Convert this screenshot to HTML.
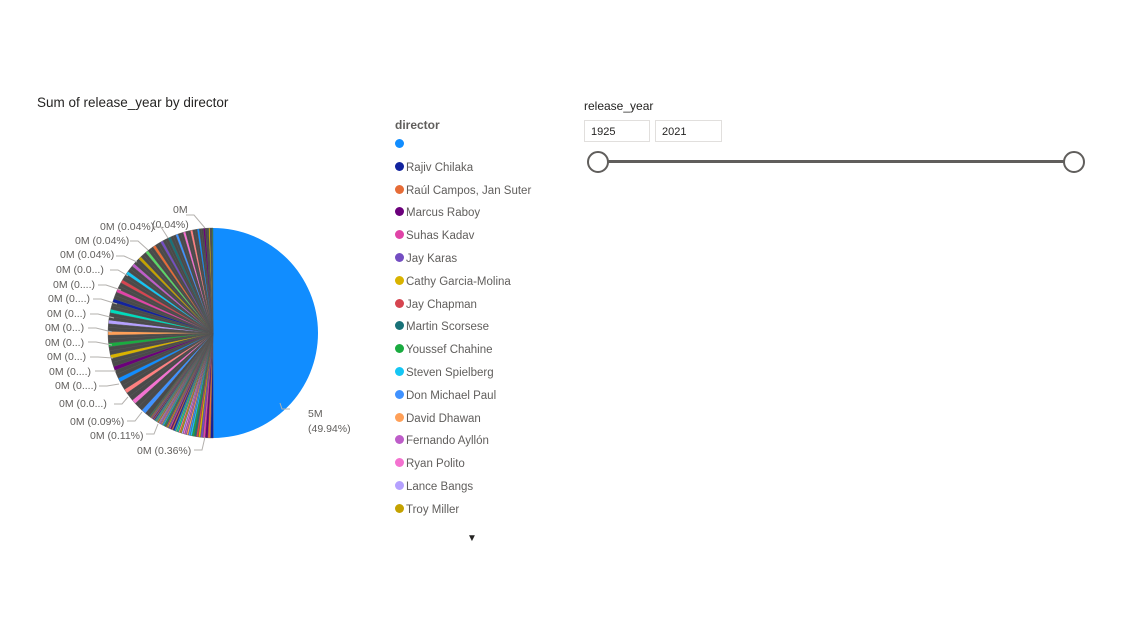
<!DOCTYPE html>
<html><head><meta charset="utf-8">
<style>
body{margin:0;width:1138px;height:639px;background:#fff;font-family:"Segoe UI","Liberation Sans",sans-serif;position:relative;overflow:hidden;color:#252423}
.t{position:absolute;white-space:nowrap}
.leg{position:absolute;left:395px;font-size:11.5px;color:#605e5c}
.leg span{display:inline-block;width:9px;height:9px;border-radius:50%;margin-right:2px;vertical-align:-0px}
.box{position:absolute;top:120px;height:22px;border:1px solid #e1dfdd;font-size:11px;line-height:22px;padding-left:6px;box-sizing:border-box}
.lbl{font-size:10.5px;fill:#605e5c;font-family:"Liberation Sans",sans-serif}
</style></head><body>
<div class="t" style="left:37px;top:95px;font-size:13.5px">Sum of release_year by director</div>
<svg width="1138" height="639" style="position:absolute;left:0;top:0" id="pie"></svg>
<div class="t" style="left:395px;top:118px;font-size:12px;font-weight:bold;color:#605e5c">director</div>
<div id="legend"></div>
<div class="t" style="left:467px;top:533px;font-size:10px;color:#252423">▼</div>
<div class="t" style="left:584px;top:99px;font-size:12px">release_year</div>
<div class="box" style="left:584px;width:66px">1925</div>
<div class="box" style="left:655px;width:67px">2021</div>
<div style="position:absolute;left:598px;top:160px;width:476px;height:3px;background:#605e5c"></div>
<div style="position:absolute;left:587px;top:151px;width:18px;height:18px;border:2px solid #605e5c;border-radius:50%;background:#fff"></div>
<div style="position:absolute;left:1063px;top:151px;width:18px;height:18px;border:2px solid #605e5c;border-radius:50%;background:#fff"></div>
<script>
const directors=["","Rajiv Chilaka","Raúl Campos, Jan Suter","Marcus Raboy","Suhas Kadav","Jay Karas","Cathy Garcia-Molina","Jay Chapman","Martin Scorsese","Youssef Chahine","Steven Spielberg","Don Michael Paul","David Dhawan","Fernando Ayllón","Ryan Polito","Lance Bangs","Troy Miller"];
const legendColors=["#118DFF","#12239E","#E66C37","#6B007B","#E044A7","#744EC2","#D9B300","#D64550","#197278","#1AAB40","#15C6F4","#4092FF","#FFA058","#BE5DC9","#F472D0","#B5A1FF","#C4A200"];
const mainShare=49.94;
const sliceValues=[49.94,0.36,0.34,0.32,0.3,0.3,0.28,0.27,0.26,0.25,0.25,0.24,0.23,0.22,0.22,0.21,0.2,0.2,0.19,0.19,0.18,0.18,0.17,0.17,0.16,0.16,0.15,0.15,0.15,0.14,0.14,0.13,0.13,0.13,0.12,0.12,0.12,0.11,0.11,0.11,0.11,0.1,0.1,0.1,0.1,0.09,0.09,0.09,0.09,0.09,
0.6,0.6,0.58,0.58,0.56,0.56,0.55,0.55,0.54,0.54,0.53,0.53,0.52,0.52,0.51,0.51,0.5,0.5,0.5,0.49,0.49,0.48,0.48,0.48,0.47,0.47,0.46,0.46,0.46,0.45,0.45,0.45,0.44,0.44,0.44,0.43,0.43,0.43,0.42,0.42,0.42,0.41,0.41,0.41,0.4,0.4,0.4,0.39,0.39,0.39,0.38,0.38,0.38,0.37,0.37,0.36,0.36,0.35,0.35,0.34,0.34,0.33,0.33,0.32,0.32,0.31,0.3,0.3,0.29,0.28,0.27,0.26,0.25,0.24,0.22,0.2,0.18,0.15,0.12,0.1];
const palette=["#118DFF","#12239E","#E66C37","#6B007B","#E044A7","#744EC2","#D9B300","#D64550","#197278","#1AAB40","#15C6F4","#4092FF","#FFA058","#BE5DC9","#F472D0","#B5A1FF","#C4A200","#FF8080","#00DBBC","#5BD667"];
const labels=[["0M",173,213,186,215,205,228],["(0.04%)",152,228,0,0,0,0],["0M (0.04%)",100,230,153,227,168,238],["0M (0.04%)",75,244,130,241,148,250],["0M (0.04%)",60,258,116,256,137,262],["0M (0.0...)",56,273,110,270,128,276],["0M (0....)",53,288,98,285,121,290],["0M (0....)",48,302,93,299,117,304],["0M (0...)",47,317,90,314,114,318],["0M (0...)",45,331,88,328,112,332],["0M (0...)",45,346,88,342,112,345],["0M (0...)",47,360,90,357,113,358],["0M (0....)",49,375,95,371,116,371],["0M (0....)",55,389,99,386,119,384],["0M (0.0...)",59,407,114,404,128,397],["0M (0.09%)",70,425,127,421,142,412],["0M (0.11%)",90,439,146,434,158,424],["0M (0.36%)",137,454,194,450,205,437],["5M",308,417,290,409,280,403],["(49.94%)",308,432,0,0,0,0]];
const NS="http://www.w3.org/2000/svg";
const svg=document.getElementById('pie');
const cx=213,cy=333,R=105;
const restTotal=sliceValues.slice(1).reduce((a,b)=>a+b,0);
function frac(v,i){return i==0?v/100:(v/restTotal)*(1-mainShare/100);}
function pt(a,r){return [cx+r*Math.sin(a),cy-r*Math.cos(a)];}
let a0=0;
sliceValues.forEach((v,i)=>{
  const a1=a0+frac(v,i)*2*Math.PI;
  const p0=pt(a0,R),p1=pt(a1,R);
  const p=document.createElementNS(NS,'path');
  p.setAttribute('d',`M${cx},${cy}L${p0[0]},${p0[1]}A${R},${R} 0 ${a1-a0>Math.PI?1:0} 1 ${p1[0]},${p1[1]}Z`);
  const col=i==0?"#118DFF":palette[i%palette.length];
  p.setAttribute('fill',i>49&&i%3!=0?"#4a4a4a":col);
  p.setAttribute('stroke',i==0?"none":"#555");
  p.setAttribute('stroke-width','0.4');
  
  
  svg.appendChild(p);
  a0=a1;
});
labels.forEach(l=>{
  if(l[3]){
    const ln=document.createElementNS(NS,'polyline');
    ln.setAttribute('points',`${l[3]},${l[4]} ${l[3]+ (l[5]>l[3]?8:-8)},${l[4]} ${l[5]},${l[6]}`);
    ln.setAttribute('fill','none');ln.setAttribute('stroke','#b3b0ad');ln.setAttribute('stroke-width','1');
    
    
    svg.appendChild(ln);
  }
  const t=document.createElementNS(NS,'text');
  t.setAttribute('x',l[1]);t.setAttribute('y',l[2]);
  t.setAttribute('class','lbl');
  t.textContent=l[0];
  
  
  svg.appendChild(t);
});
const leg=document.getElementById('legend');
directors.forEach((d,i)=>{
  const e=document.createElement('div');
  e.className='leg';
  e.style.top=(139+i*22.8)+'px';
  e.innerHTML=`<span style="background:${legendColors[i]}"></span>${d}`;
  
  
  leg.appendChild(e);
});
</script>
</body></html>
